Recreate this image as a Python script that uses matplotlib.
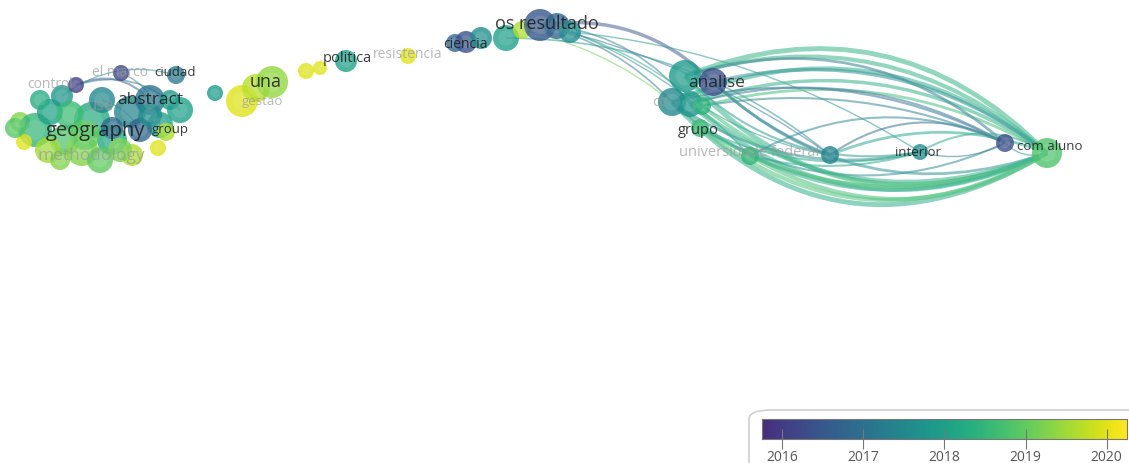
import numpy as np
import matplotlib
matplotlib.use("Agg")
import matplotlib.pyplot as plt
from matplotlib.colors import ListedColormap
from matplotlib.path import Path
from matplotlib.patches import PathPatch, FancyBboxPatch

plt.rcParams['font.family'] = ['Open Sans', 'DejaVu Sans']

# node positions (layout space), radius and average publication year
node_x = [20, 35, 50, 62, 76, 65, 82, 92, 102, 112, 121, 130, 150, 160, 176, 180, 166, 158, 24, 132, 100, 48, 112, 140,
          215, 242, 256, 272, 306, 320, 346, 408, 455, 466, 481, 506, 522, 540, 557, 570,
          685, 713, 672, 690, 702, 700, 750, 830, 920, 1005, 1047,
          15, 40, 70, 120, 85, 150, 170, 60]
node_y = [122, 130, 112, 96, 85, 140, 150, 120, 100, 140, 73, 112, 100, 125, 75, 110, 132, 148, 142, 155, 160, 150, 128, 130,
          93, 101, 88, 82, 71, 68, 61, 56, 43, 42, 38, 38, 30, 25, 26, 32,
          76, 82, 102, 104, 106, 128, 156, 155, 152, 143, 153,
          128, 100, 115, 150, 135, 115, 100, 160]
node_r = [10, 17, 13, 11, 8, 15, 16, 18, 13, 15, 8, 16, 15, 13, 9, 13, 9, 8, 8, 11, 13, 13, 11, 12,
          8, 16, 14, 16, 8, 7, 11, 8, 9, 11, 11, 13, 9, 16, 13, 11,
          16, 14, 14, 13, 9, 9, 9, 9, 8, 9, 15,
          10, 10, 14, 12, 15, 12, 10, 10]
node_year = [2019.3, 2018.5, 2018.0, 2017.8, 2016.1, 2018.8, 2019.3, 2018.3, 2017.5, 2018.2, 2016.2, 2017.4, 2017.1,
             2018.0, 2017.2, 2018.0, 2019.6, 2020.0, 2020.0, 2019.6, 2019.0, 2019.5, 2016.9, 2016.8,
             2017.9, 2020.0, 2019.7, 2019.4, 2020.0, 2020.0, 2018.0, 2020.0, 2016.8, 2016.4, 2017.6, 2018.0,
             2019.6, 2016.5, 2016.8, 2017.6,
             2017.9, 2016.4, 2017.5, 2017.8, 2018.4, 2018.6, 2018.5, 2017.4, 2017.6, 2016.3, 2018.8,
             2018.9, 2018.3, 2018.6, 2019.2, 2019.0, 2017.6, 2017.9, 2019.3]

# links: source, target, bend (negative = arc upward), width
edge_src = [4, 4, 10, 3, 8,
            37, 38, 39, 37, 38, 36, 35, 37, 39,
            40, 40, 42, 43, 44, 40, 43, 41, 42, 44,
            40, 42, 43, 44, 45, 45, 46, 46, 45, 42, 45, 46, 40, 41, 41, 44, 43, 42,
            47, 48, 47, 46, 49, 49]
edge_dst = [12, 15, 13, 14, 23,
            42, 43, 44, 41, 46, 45, 47, 47, 48,
            50, 50, 50, 50, 50, 49, 49, 50, 49, 49,
            50, 50, 50, 50, 50, 50, 50, 50, 49, 48, 48, 48, 48, 47, 50, 47, 50, 50,
            50, 50, 49, 49, 50, 48]
edge_bend = [-0.35, -0.3, -0.3, -0.25, -0.2,
             -0.15, -0.2, -0.1, -0.25, -0.12, -0.15, -0.18, -0.1, -0.12,
             -0.33, -0.28, -0.3, -0.25, -0.21, -0.28, -0.21, -0.24, -0.19, -0.15,
             0.36, 0.4, 0.33, 0.3, 0.34, 0.26, 0.3, 0.22, 0.26, 0.22, 0.18, 0.14, 0.26, 0.1, 0.3, 0.1, 0.28, 0.32,
             -0.2, -0.3, -0.3, -0.25, 0.3, -0.2]
edge_w = [1.5, 1.2, 1.0, 1.0, 1.0,
          1.2, 1.2, 1.0, 2.5, 1.0, 1.0, 1.2, 1.0, 1.0,
          3.5, 3.0, 3.0, 2.5, 2.0, 2.0, 1.5, 2.5, 1.5, 1.5,
          3.5, 3.5, 3.0, 2.5, 3.0, 2.5, 3.0, 2.5, 1.5, 2.0, 1.5, 1.5, 1.5, 2.0, 2.0, 1.0, 2.5, 2.5,
          2.0, 1.5, 1.5, 1.5, 1.0, 1.0]

# labels
lab_text = ['geography', 'abstract', 'ciudad', 'group', 'una', 'politica', 'ciencia', 'os resultado',
            'analise', 'grupo', 'interior', 'com aluno']
lab_x = [95, 150, 175, 170, 266, 347, 466, 547, 717, 698, 918, 1050]
lab_y = [131, 100, 73, 130, 82, 58, 45, 24, 83, 130, 153, 146]
lab_size = [14.5, 12.5, 9.5, 9.5, 13, 10.5, 10, 13, 12.5, 10.5, 9.5, 9.5]

faint_text = ['methodology', 'el marco', 'control', 'use', 'resistencia', 'universidade federal', 'co', 'gestao']
faint_x = [91, 120, 50, 100, 408, 749, 660, 262]
faint_y = [156, 72, 85, 106, 54, 152, 102, 102]
faint_size = [12.5, 10, 10, 12, 10, 10.5, 10.5, 9.5]

years = [2016, 2017, 2018, 2019, 2020]

# viridis without its darkest part, as in the overlay legend
cmap = ListedColormap(plt.get_cmap('viridis')(np.linspace(0.13, 1.0, 256)))
norm = plt.Normalize(2015.75, 2020.25)


def lighten(c, f):
    c = np.array(c[:3])
    return tuple(c + (1 - c) * f)


fig = plt.figure(figsize=(11.29, 4.63), dpi=100)
ax = fig.add_axes([0, 0, 1, 1])
ax.set_xlim(0, 1129)
ax.set_ylim(463, 0)
ax.axis('off')

# curved links
for s, t, b, w in zip(edge_src, edge_dst, edge_bend, edge_w):
    p0 = np.array([node_x[s], node_y[s]], float)
    p2 = np.array([node_x[t], node_y[t]], float)
    d = p2 - p0
    L = np.hypot(*d)
    n = np.array([-d[1], d[0]]) / L
    p1 = (p0 + p2) / 2 + b * L * n
    col = lighten(cmap(norm((node_year[s] + node_year[t]) / 2)), 0.15)
    path = Path([p0, p1, p2], [Path.MOVETO, Path.CURVE3, Path.CURVE3])
    ax.add_patch(PathPatch(path, fc='none', ec=col, lw=w, alpha=0.6, zorder=1))

# nodes with a soft highlight in the middle
sizes = np.array([(2 * r * 0.72) ** 2 for r in node_r])
ax.scatter(node_x, node_y, s=sizes, c=node_year, cmap=cmap, norm=norm,
           alpha=0.8, edgecolors='none', zorder=2)
ax.scatter(node_x, node_y, s=sizes * 0.35, c='white', alpha=0.1, edgecolors='none', zorder=2)

for t, x, y, fs in zip(faint_text, faint_x, faint_y, faint_size):
    ax.text(x, y, t, ha='center', va='center', fontsize=fs, color='#999999', alpha=0.7, zorder=3)
for t, x, y, fs in zip(lab_text, lab_x, lab_y, lab_size):
    ax.text(x, y, t, ha='center', va='center', fontsize=fs, color='#1a1a1a', alpha=0.85, zorder=4)

# legend box + colour bar
box = FancyBboxPatch((749 / 1129, -0.05), 0.4, (463 - 410) / 463 + 0.05,
                     boxstyle='round,pad=0,rounding_size=0.02', transform=fig.transFigure,
                     fc='white', ec='#d0d0d0', lw=1.2, zorder=0.5)
fig.patches.append(box)

cax = fig.add_axes([762 / 1129, 1 - 439 / 463, (1127 - 762) / 1129, 20 / 463])
cax.set_zorder(10)
grad = np.linspace(2015.75, 2020.25, 400).reshape(1, -1)
cax.imshow(grad, aspect='auto', cmap=cmap, norm=norm, extent=[2015.75, 2020.25, 0, 1])
cax.set_xlim(2015.75, 2020.25)
cax.set_yticks([])
cax.set_xticks(years)
cax.set_xticklabels([str(y) for y in years], fontsize=10, color='#555555')
cax.tick_params(axis='x', direction='inout', length=14, color='#777777', pad=1)
for sp in cax.spines.values():
    sp.set_color('#777777')
    sp.set_linewidth(0.8)

fig.savefig('out.png', dpi=100)
